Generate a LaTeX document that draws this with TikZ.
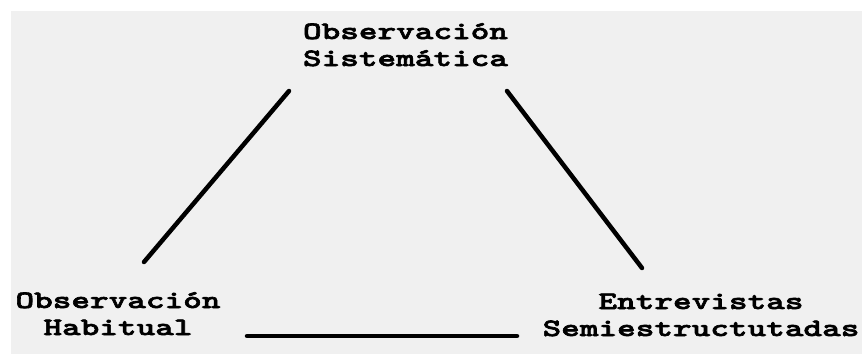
\documentclass[tikz,border=0pt]{standalone}
\usepackage{fontspec}
\newfontfamily\termfont[Extension=.otf,FakeStretch=1.42,FakeBold=2.5]{lmmonolt10-bold}
\definecolor{paper}{RGB}{240,240,240}

\begin{document}
\begin{tikzpicture}[
  x=1pt, y=-1pt,
  term/.style={align=center, inner sep=0pt, anchor=base,
               font=\termfont\fontsize{25}{27}\selectfont},
  link/.style={line width=4.5pt, line cap=round},
]
\useasboundingbox (0,0) rectangle (862,354);

% --- Background ---
\fill[white] (0,0) rectangle (862,354);
\fill[paper] (11,11) rectangle (862,354);

% --- Terms (anchored on the baseline of the last line) ---
\node[term] (sis) at (405.5,66) {Observación\\Sistemática};
\node[term] (hab) at (118,335) {Observación\\Habitual};
\node[term] (ent) at (701,336) {Entrevistas\\Semiestructutadas};

% --- Line ends ---
\coordinate (habUp) at (144,262);
\coordinate (sisLeft) at (289,91);
\coordinate (sisRight) at (507,91);
\coordinate (entUp) at (642,268);
\coordinate (habRight) at (247,336);
\coordinate (entLeft) at (517,336);

% --- Triangle ---
\draw[link] (habUp) -- (sisLeft);
\draw[link] (sisRight) -- (entUp);
\draw[link] (habRight) -- (entLeft);

\end{tikzpicture}
\end{document}
